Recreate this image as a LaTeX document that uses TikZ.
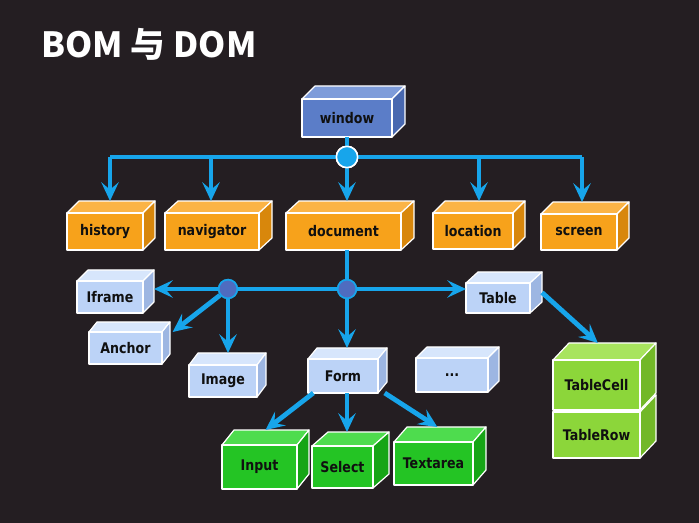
\documentclass[tikz,border=0pt]{standalone}
\usepackage{fontspec}
\usetikzlibrary{arrows.meta}
\newfontfamily\cjkfont{Noto Sans CJK SC}
\newfontfamily\lblfont[FakeStretch=0.86]{DejaVu Sans}
\definecolor{bg}{HTML}{241E22}
\definecolor{linecol}{HTML}{17A5EB}
\definecolor{hubdark}{HTML}{4E6CC0}
\definecolor{lbl}{HTML}{101010}
\definecolor{winfront}{HTML}{5B7DC8}
\definecolor{wintop}{HTML}{7E9CDA}
\definecolor{winside}{HTML}{4868B0}
\definecolor{orgfront}{HTML}{F7A21B}
\definecolor{orgtop}{HTML}{FBB446}
\definecolor{orgside}{HTML}{D8870C}
\definecolor{lbfront}{HTML}{BCD3F7}
\definecolor{lbtop}{HTML}{D7E6FC}
\definecolor{lbside}{HTML}{9DB6E2}
\definecolor{grnfront}{HTML}{24C424}
\definecolor{grntop}{HTML}{4EDC4E}
\definecolor{grnside}{HTML}{16A516}
\definecolor{limefront}{HTML}{8CD63A}
\definecolor{limetop}{HTML}{A8E45E}
\definecolor{limeside}{HTML}{72B828}
\tikzset{
  cubeline/.style={draw=white, line width=0.9pt, line join=round},
  bus/.style={draw=linecol, line width=3.6pt},
  arr/.style={draw=linecol, line width=3.6pt, -{Stealth[length=14pt,width=13pt,inset=5.5pt]}},
  hubA/.style={circle, fill=linecol, draw=white, line width=1.2pt, minimum size=16pt, inner sep=0pt},
  hubB/.style={circle, fill=hubdark, draw=linecol, line width=1.2pt, minimum size=14pt, inner sep=0pt},
}
% style-prefix, name, x1, y1, x2, y2, dx, dy, label
\newcommand\cubebox[9]{%
  \filldraw[cubeline, fill=#1top] (#3,#4) -- ({#3+#7},{#4-#8}) -- ({#5+#7},{#4-#8}) -- (#5,#4) -- cycle;
  \filldraw[cubeline, fill=#1side] (#5,#4) -- ({#5+#7},{#4-#8}) -- ({#5+#7},{#6-#8}) -- (#5,#6) -- cycle;
  \node[cubeline, fill=#1front, minimum width={(#5-#3)*0.75pt}, minimum height={(#6-#4)*0.75pt},
        inner sep=0pt, outer sep=0pt, text=lbl, font=\lblfont\bfseries\fontsize{11}{13}\selectfont]
        (#2) at ({(#3+#5)/2},{(#4+#6)/2}) {#9};
  \coordinate (#2t) at ({(#3+#5+#7)/2},{#4-#8});
  \coordinate (#2s) at ({#5+#7},{(#4+#6-#8)/2});
}
\begin{document}
\begin{tikzpicture}[x=0.75pt,y=-0.75pt]
\fill[bg] (0,0) rectangle (699,523);
\useasboundingbox (0,0) rectangle (699,523);

\node[anchor=base west, text=white, inner sep=0pt, font=\cjkfont\bfseries\fontsize{26}{31}\selectfont] (title) at (41,58) {BOM 与 DOM};

% boxes
\cubebox{win}{window}{302}{99}{392}{137}{13}{13}{window}
\cubebox{org}{history}{67}{213}{143}{250}{12}{12}{history}
\cubebox{org}{navigator}{165}{213}{259}{250}{13}{12}{navigator}
\cubebox{org}{document}{286}{213}{401}{250}{13}{12}{document}
\cubebox{org}{location}{433}{213}{513}{249}{12}{12}{location}
\cubebox{org}{screen}{541}{214}{617}{250}{12}{12}{screen}
\cubebox{lb}{Iframe}{77}{281}{143}{313}{11}{11}{Iframe}
\cubebox{lb}{Anchor}{89}{332}{162}{364}{8}{10}{Anchor}
\cubebox{lb}{Image}{189}{365}{257}{397}{9}{12}{Image}
\cubebox{lb}{Table}{466}{283}{530}{313}{12}{11}{Table}
\cubebox{lb}{Form}{308}{359}{378}{393}{9}{11}{Form}
\cubebox{lb}{dots}{416}{358}{488}{392}{11}{11}{...}
\cubebox{grn}{Input}{222}{445}{297}{489}{12}{15}{Input}
\cubebox{grn}{Select}{312}{446}{373}{488}{16}{14}{Select}
\cubebox{grn}{Textarea}{394}{442}{473}{485}{13}{15}{Textarea}
\cubebox{lime}{TableRow}{553}{412}{640}{458}{16}{17}{TableRow}
\cubebox{lime}{TableCell}{553}{360}{640}{410}{16}{17}{TableCell}

% level 1
\coordinate (b1) at (110,157);
\coordinate (b2) at (211,157);
\coordinate (b4) at (479,157);
\coordinate (b5) at (582,157);
\node[hubA] (c1) at (347,157) {};
\draw[bus] (window.south) -- (c1);
\draw[bus] (b1) -- (b5);
\draw[arr] (b1) -- (b1 |- historyt);
\draw[arr] (b2) -- (b2 |- navigatort);
\draw[arr] (c1) -- (c1 |- documentt);
\draw[arr] (b4) -- (b4 |- locationt);
\draw[arr] (b5) -- (b5 |- screent);
\node[hubA] at (c1) {};

% level 2
\node[hubB] (c2) at (228,289) {};
\node[hubB] (c3) at (347,289) {};
\draw[bus] (c3 |- document.south) -- (c3);
\draw[bus] (c3) -- (c2);
\draw[arr] (c3) -- (c3 -| Table.west);
\draw[arr] (c2) -- (c2 -| Iframes);
\draw[arr] (c2) -- ([xshift=8pt]Anchor.north east);
\draw[arr] (c2) -- (c2 |- Imaget);
\draw[arr] (c3) -- (c3 |- Formt);
\draw[arr] (Tables) -- ([xshift=-5pt]TableCellt);
\draw[arr] ([xshift=4pt]Form.south west) -- (Inputt);
\draw[arr] (c3 |- Form.south) -- (c3 |- Selectt);
\draw[arr] ([xshift=5pt]Form.south east) -- ([xshift=-2pt]Textareat);
\node[hubB] at (c2) {};
\node[hubB] at (c3) {};
\end{tikzpicture}
\end{document}
